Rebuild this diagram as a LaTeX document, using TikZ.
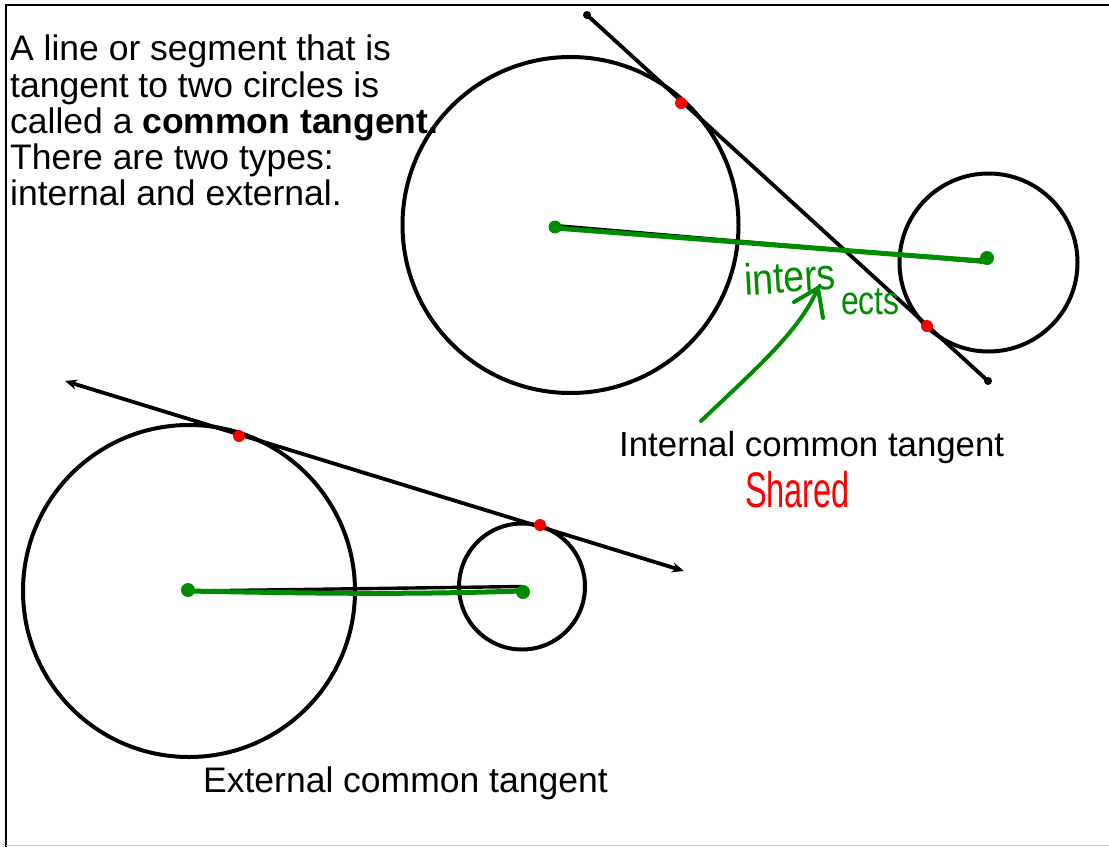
\documentclass[tikz,border=0pt]{standalone}
\usepackage{fontspec}
\setmainfont{Liberation Sans}
\usetikzlibrary{arrows.meta}
\definecolor{pgreen}{RGB}{0,140,0}
\definecolor{pred}{RGB}{255,0,0}
\begin{document}
\begin{tikzpicture}[x=1pt,y=-1pt,
  ring/.style={circle,draw=black,line width=4pt,inner sep=0pt,outer sep=0pt},
  reddot/.style={circle,fill=pred,inner sep=0pt,minimum size=12pt},
  blackdot/.style={circle,fill=black,inner sep=0pt,minimum size=8pt},
  greendot/.style={circle,fill=pgreen,inner sep=0pt,minimum size=13pt},
  tline/.style={line width=3.8pt,black},
  gline/.style={line width=5pt,pgreen,line cap=round},
  para/.style={anchor=base west,inner sep=0pt,font=\fontsize{35.5}{36}\selectfont},
  hand/.style={anchor=base west,inner sep=0pt,text=pgreen,font=\fontsize{44}{44}\selectfont}
]
\useasboundingbox (0,0) rectangle (1109,847);
% frame
\draw[line width=2.5pt] (5,5) -- (1109,5);
\draw[line width=2.5pt] (6,5) -- (6,847);
\draw[line width=1.5pt,black!20] (6,845.5) -- (1109,845.5);

% text
\node[para] (p1) at (10,60) {A line or segment that is};
\node[para] (p2) at (10,97) {tangent to two circles is};
\node[para] (p3) at (10,133) {called a \textbf{common tangent.}};
\node[para] (p4) at (10,169) {There are two types:};
\node[para] (p5) at (10,205) {internal and external.};

% internal common tangent
\node[ring,minimum size=336pt] (A) at (570.5,225) {};
\node[ring,minimum size=178pt] (B) at (988.5,262.5) {};
\node[blackdot] (ie1) at (587,15) {};
\node[blackdot] (ie2) at (988,381) {};
\draw[tline] (ie1.center) -- (ie2.center);
\node[reddot] (it1) at (681,103) {};
\node[reddot] (it2) at (927,326) {};
% centers segment
\draw[line width=3.4pt] (B.center) -- (560,226);
\draw[gline] (555,228) .. controls (700,239) and (850,251) .. (983,261);
\node[greendot] (ga) at (555,227) {};
\node[greendot,minimum size=14pt] (gb) at (987,258) {};

% handwriting
\node[hand,xscale=0.85,rotate=4] (w1) at (745,296) {inters};
\node[hand,xscale=0.8,font=\fontsize{40}{40}\selectfont] (w2) at (841,314) {ects};
\coordinate (arS) at (701,421);
\coordinate (arE) at (818,288);
\draw[gline,line width=4pt] (arS) .. controls (760,365) and (800,330) .. (arE);
\draw[gline,line width=4pt] (794,302) -- (arE) -- (823,318);

\node[para,anchor=base west,font=\fontsize{34.8}{36}\selectfont] (lint) at (619,456) {Internal common tangent};
\node[anchor=base west,inner sep=0pt,text=pred,font=\fontsize{50}{50}\selectfont,xscale=0.65] (shared) at (745,507) {Shared};

% external common tangent
\node[ring,minimum size=332pt] (C) at (189,591) {};
\node[ring,minimum size=126pt] (D) at (522,586.5) {};
\coordinate (xe1) at (65,381);
\coordinate (xe2) at (684,571);
\draw[tline,{Stealth[length=12pt,width=10pt]}-{Stealth[length=12pt,width=10pt]}] (xe1) -- (xe2);
\node[reddot] (xt1) at (239,436) {};
\node[reddot] (xt2) at (540,525) {};
\draw[line width=3.4pt] (C.center) -- (D.center);
\draw[gline] (188,591) .. controls (300,593) and (400,595) .. (521,591);
\node[greendot,minimum size=14pt] (gc) at (188,590) {};
\node[greendot,minimum size=14pt] (gd) at (523,592) {};

\node[para,anchor=base west] (lext) at (203,792) {External common tangent};
\end{tikzpicture}
\end{document}
